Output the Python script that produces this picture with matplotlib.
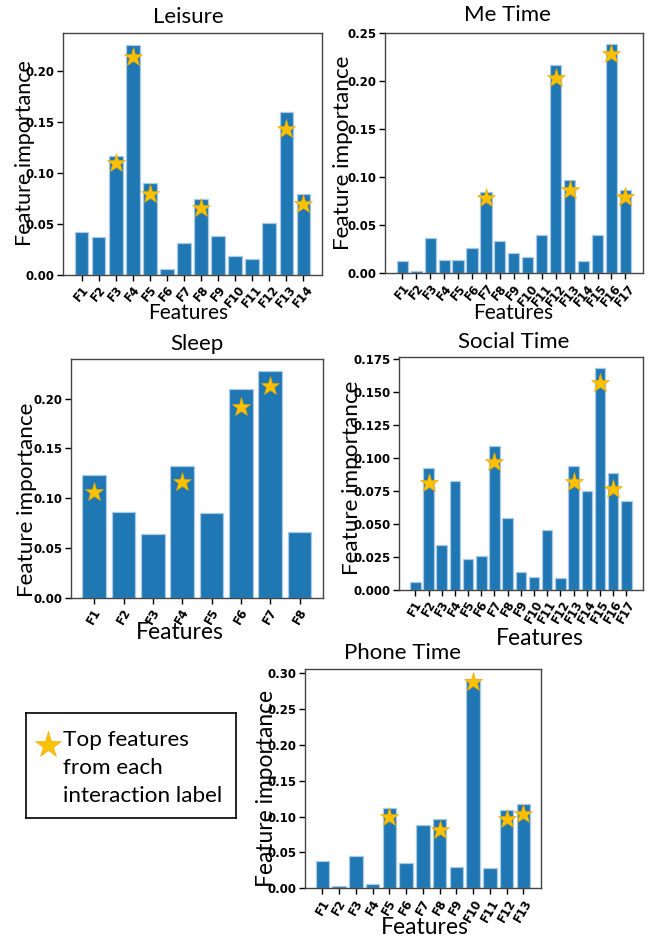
import matplotlib.pyplot as plt

# ---- data ----
leisure_feats = ['F%d' % i for i in range(1, 15)]
leisure_vals = [0.0426, 0.0373, 0.1173, 0.2263, 0.0902, 0.0063, 0.0317,
                0.0743, 0.0380, 0.0188, 0.0162, 0.0515, 0.1599, 0.0800]
leisure_top = ['F3', 'F4', 'F5', 'F8', 'F13', 'F14']
leisure_star = [0.110, 0.2137, 0.0793, 0.0661, 0.143, 0.0697]

metime_feats = ['F%d' % i for i in range(1, 18)]
metime_vals = [0.0128, 0.0028, 0.0365, 0.0139, 0.0139, 0.0264, 0.0851, 0.0337,
               0.0208, 0.0174, 0.0399, 0.2163, 0.0972, 0.0132, 0.0399, 0.2384,
               0.0862]
metime_top = ['F7', 'F12', 'F13', 'F16', 'F17']
metime_star = [0.0779, 0.2037, 0.0865, 0.2280, 0.0794]

sleep_feats = ['F%d' % i for i in range(1, 9)]
sleep_vals = [0.1229, 0.0858, 0.0637, 0.1323, 0.0854, 0.2097, 0.2281, 0.0663]
sleep_top = ['F1', 'F4', 'F6', 'F7']
sleep_star = [0.1065, 0.1159, 0.192, 0.213]

social_feats = ['F%d' % i for i in range(1, 18)]
social_vals = [0.0061, 0.0923, 0.0344, 0.0827, 0.0238, 0.0255, 0.1092, 0.0543,
               0.0137, 0.0099, 0.0452, 0.0088, 0.0938, 0.0746, 0.1681, 0.0885,
               0.0670]
social_top = ['F2', 'F7', 'F13', 'F15', 'F16']
social_star = [0.0809, 0.0968, 0.0816, 0.1567, 0.0766]

phone_feats = ['F%d' % i for i in range(1, 14)]
phone_vals = [0.0380, 0.0032, 0.0445, 0.0056, 0.1118, 0.0357, 0.0881, 0.0965,
              0.0292, 0.2910, 0.0278, 0.1085, 0.1169]
phone_top = ['F5', 'F8', 'F10', 'F12', 'F13']
phone_star = [0.0988, 0.0816, 0.287, 0.096, 0.1034]

BAR = '#1f77b4'
GOLD = '#FFC000'
TXT_FONT = ['Lato', 'DejaVu Sans']
TICK_FONT = ['Liberation Sans Narrow', 'DejaVu Sans']

W, H = 649, 941
fig = plt.figure(figsize=(W / 100, H / 100), dpi=100)


def add_axes(l, t, r, b):
    return fig.add_axes([l / W, 1 - b / H, (r - l) / W, (b - t) / H])


# panel: title, feats, vals, top, star, rect(px), rotation, xlabel size, ylabel size,
#        title/xlabel/ylabel pos (axes coords)
panels = [
    ('Leisure', leisure_feats, leisure_vals, leisure_top, leisure_star,
     (63, 33, 322, 275), 50, 15, 15.5,
     (0.483, 1.066), (0.483, -0.157), (-0.147, 0.502)),
    ('Me Time', metime_feats, metime_vals, metime_top, metime_star,
     (385, 32.7, 642.7, 273.3), 50, 15, 16.2,
     (0.477, 1.074), (0.497, -0.165), (-0.163, 0.502)),
    ('Sleep', sleep_feats, sleep_vals, sleep_top, sleep_star,
     (71, 359.3, 322.7, 597.7), 60, 16.5, 16.2,
     (0.5, 1.064), (0.433, -0.144), (-0.175, 0.412)),
    ('Social Time', social_feats, social_vals, social_top, social_star,
     (399, 356.7, 642.7, 590), 60, 16.5, 16.2,
     (0.472, 1.063), (0.579, -0.206), (-0.193, 0.482)),
    ('Phone Time', phone_feats, phone_vals, phone_top, phone_star,
     (305, 669, 540.7, 888.3), 60, 16.5, 16.4,
     (0.412, 1.073), (0.509, -0.181), (-0.165, 0.455)),
]

for title, feats, vals, top, star, rect, rot, xsize, ysize, tpos, xpos, ypos in panels:
    ax = add_axes(*rect)
    ax.bar(feats, vals, width=0.8, color=BAR, edgecolor='#a9c9e6', linewidth=0.9)
    ax.plot(top, star, linestyle='none', marker='*', markersize=14,
            color=GOLD, markeredgecolor='#E8A800', markeredgewidth=0.4)
    for s in ax.spines.values():
        s.set_color('#444444')
        s.set_linewidth(1.0)
    ax.tick_params(length=4, width=1, color='black', pad=2)
    for lab in ax.get_xticklabels() + ax.get_yticklabels():
        lab.set_family(TICK_FONT)
        lab.set_weight('bold')
        lab.set_fontsize(8.5)
    for lab in ax.get_xticklabels():
        lab.set_rotation(rot)
    ax.text(tpos[0], tpos[1], title, transform=ax.transAxes, ha='center',
            va='center', family=TXT_FONT, fontsize=16)
    ax.set_xlabel('Features', family=TXT_FONT, fontsize=xsize, va='center')
    ax.xaxis.set_label_coords(*xpos)
    ax.set_ylabel('Feature importance', family=TXT_FONT, fontsize=ysize, va='center')
    ax.yaxis.set_label_coords(*ypos)

# legend box
lax = add_axes(26, 712.7, 236, 818.3)
lax.set_xlim(0, 1)
lax.set_ylim(0, 1)
lax.set_xticks([])
lax.set_yticks([])
for s in lax.spines.values():
    s.set_color('black')
    s.set_linewidth(1.2)
lax.plot([0.105], [0.69], linestyle='none', marker='*', markersize=19.5,
         color=GOLD, markeredgecolor='#E8A800', markeredgewidth=0.4)
lax.text(0.176, 0.476, 'Top features\nfrom each\ninteraction label',
         ha='left', va='center', family=TXT_FONT, fontsize=16.2, linespacing=1.52)

fig.savefig('out.png', dpi=100)
